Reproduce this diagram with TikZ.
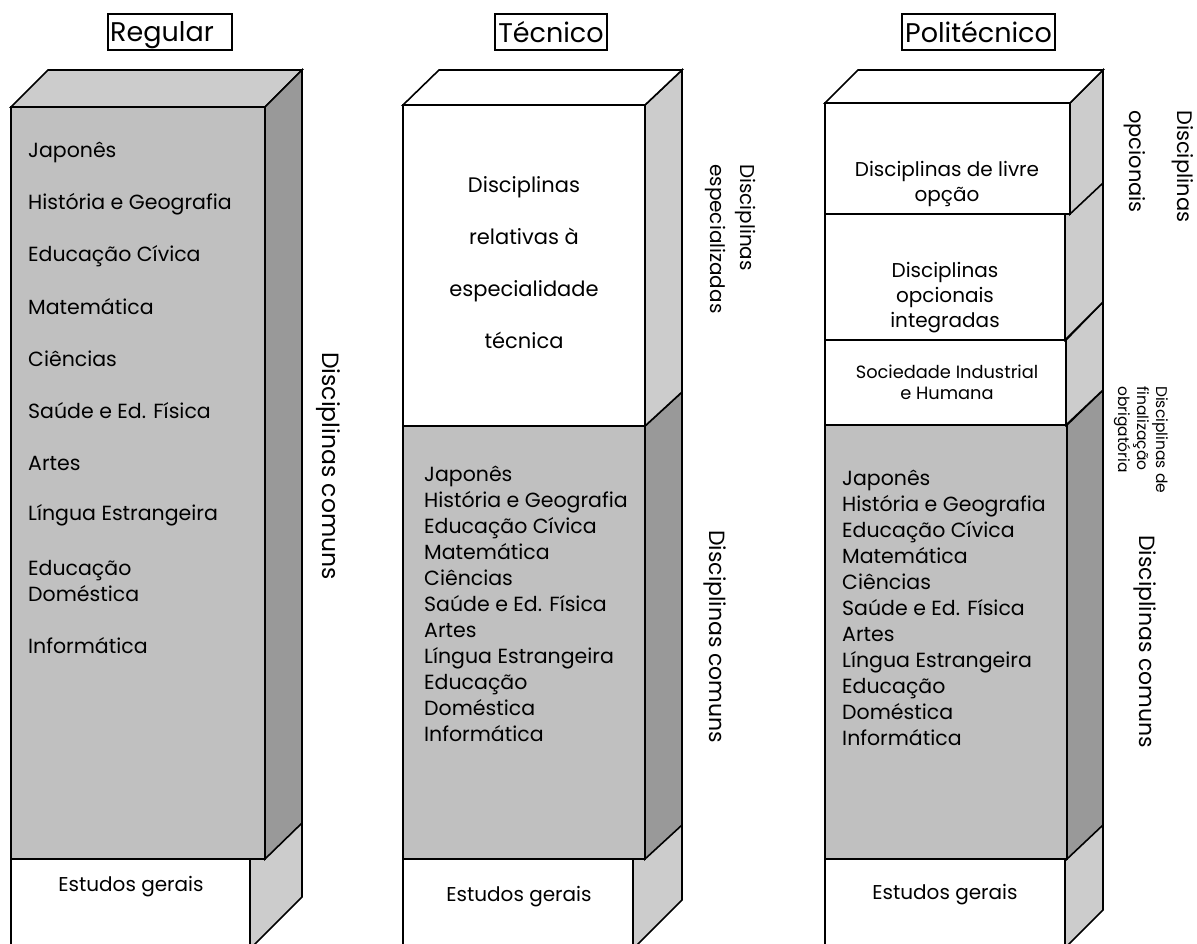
\documentclass[tikz,border=0pt]{standalone}
\usepackage{fontspec}
\setmainfont{Poppins}
\definecolor{frontg}{HTML}{C0C0C0}
\definecolor{sideg}{HTML}{999999}
\definecolor{lightg}{HTML}{CCCCCC}
\newcommand\lstfont{\fontsize{20.5}{26}\selectfont}
\newcommand\midfont{\fontsize{20}{25}\selectfont}
\newcommand\bigfont{\fontsize{21}{26}\selectfont}
\newcommand\labfont{\fontsize{22}{30}\selectfont}
\newcommand\reglabfont{\fontsize{23.5}{30}\selectfont}
\newcommand\specfont{\fontsize{20}{24}\selectfont}
\newcommand\optfont{\fontsize{21}{26}\selectfont}
\newcommand\ttlfont{\fontsize{27}{32}\selectfont}
\newcommand\smfont{\fontsize{17.8}{21}\selectfont}
\newcommand\tnfont{\fontsize{15.5}{19}\selectfont}
\begin{document}
\begin{tikzpicture}[x=1pt,y=-1pt,
  face/.style={draw=black, line width=1.6pt, line join=miter},
  titlebox/.style={draw=black, line width=1.5pt, inner sep=2pt, minimum height=36pt, font=\ttlfont, text depth=0pt},
  item/.style={inner sep=0pt, anchor=west, font=\lstfont, align=left},
  ctext/.style={inner sep=0pt, font=\midfont, align=center},
  side/.style={inner sep=0pt, rotate=-90, anchor=west, font=\labfont, align=left}]
\useasboundingbox (0,0) rectangle (1197,944);
\clip (0,0) rectangle (1197,944);

% ---------------- Regular ----------------
\filldraw[face, fill=white] (11,859) rectangle (250,970);
\filldraw[face, fill=lightg] (250,859) -- (302,807) -- (302,897) -- (250,949) -- cycle;
\filldraw[face, fill=frontg] (11,107) rectangle (265,859);
\filldraw[face, fill=lightg] (11,107) -- (48,70) -- (302,70) -- (265,107) -- cycle;
\filldraw[face, fill=sideg] (265,107) -- (302,70) -- (302,823) -- (265,859) -- cycle;

\node[titlebox, minimum width=120pt] (treg) at (170,32) {Regular\hspace*{16pt}};

\node[item] (r1) at (28,152) {Japonês};
\node[item] (r2) at (28,204) {História e Geografia};
\node[item] (r3) at (28,256) {Educação Cívica};
\node[item] (r4) at (28,307) {Matemática};
\node[item] (r5) at (28,359) {Ciências};
\node[item] (r6) at (28,411) {Saúde e Ed. Física};
\node[item] (r7) at (28,463) {Artes};
\node[item] (r8) at (28,515) {Língua Estrangeira};
\node[item] (r9) at (28,581) {Educação\\Doméstica};
\node[item] (r10) at (28,646) {Informática};
\node[ctext] (reg) at (131,887) {Estudos gerais};
\node[side, font=\reglabfont] (rlab) at (328,352) {Disciplinas comuns};

% ---------------- Tecnico ----------------
\filldraw[face, fill=white] (403,859) rectangle (633,970);
\filldraw[face, fill=lightg] (633,859) -- (682,810) -- (682,900) -- (633,949) -- cycle;
\filldraw[face, fill=frontg] (403,426) rectangle (645,859);
\filldraw[face, fill=sideg] (645,426) -- (682,392) -- (682,825) -- (645,859) -- cycle;
\filldraw[face, fill=white] (403,105) rectangle (645,426);
\filldraw[face, fill=lightg] (645,105) -- (682,70) -- (682,392) -- (645,426) -- cycle;
\filldraw[face, fill=white] (403,105) -- (439,70) -- (682,70) -- (645,105) -- cycle;

\node[titlebox, minimum width=112pt] (ttec) at (551,32) {Técnico};

\node[ctext, font=\bigfont] (tspec) at (524,263) {Disciplinas\\[26pt]relativas à\\[26pt]especialidade\\[26pt]técnica};
\node[item] (tlist) at (424,604) {Japonês\\História e Geografia\\Educação Cívica\\Matemática\\Ciências\\Saúde e Ed. Física\\Artes\\Língua Estrangeira\\Educação\\Doméstica\\Informática};
\node[ctext] (teg) at (519,897) {Estudos gerais};
\node[side, font=\specfont] (tlab1a) at (746,164) {Disciplinas};
\node[side, font=\specfont] (tlab1b) at (716,164) {especializadas};
\node[side] (tlab2) at (715,530) {Disciplinas comuns};

% ---------------- Politecnico ----------------
\filldraw[face, fill=white] (825,859) rectangle (1065,970);
\filldraw[face, fill=lightg] (1065,859) -- (1103,821) -- (1103,910) -- (1065,948) -- cycle;
\filldraw[face, fill=frontg] (825,425) rectangle (1067,859);
\filldraw[face, fill=sideg] (1067,425) -- (1103,390) -- (1103,825) -- (1067,859) -- cycle;
\filldraw[face, fill=white] (825,340) rectangle (1066,425);
\filldraw[face, fill=lightg] (1066,340) -- (1103,302) -- (1103,390) -- (1066,425) -- cycle;
\filldraw[face, fill=white] (825,214) rectangle (1065,340);
\filldraw[face, fill=lightg] (1065,214) -- (1103,176) -- (1103,302) -- (1065,340) -- cycle;
\filldraw[face, fill=white] (825,103) rectangle (1070,214);
\filldraw[face, fill=lightg] (1070,103) -- (1103,70) -- (1103,183) -- (1070,214) -- cycle;
\filldraw[face, fill=white] (825,103) -- (858,70) -- (1103,70) -- (1070,103) -- cycle;

\node[titlebox, minimum width=153pt] (tpol) at (978.5,32) {Politécnico};

\node[ctext] (plivre) at (947,184) {Disciplinas de livre\\opção};
\node[ctext] (pint) at (945,298) {Disciplinas\\opcionais\\integradas};
\node[ctext, font=\smfont] (psoc) at (947,382) {Sociedade Industrial\\e Humana};
\node[item] (plist) at (842,608) {Japonês\\História e Geografia\\Educação Cívica\\Matemática\\Ciências\\Saúde e Ed. Física\\Artes\\Língua Estrangeira\\Educação\\Doméstica\\Informática};
\node[ctext] (peg) at (945,895) {Estudos gerais};
\node[side, font=\optfont] (plab1) at (1159,110) {Disciplinas\\[22pt]opcionais};
\node[side, font=\tnfont] (plab2) at (1141,386) {Disciplinas de\\finalização\\obrigatória};
\node[side] (plab3) at (1145,535) {Disciplinas comuns};
\end{tikzpicture}
\end{document}
